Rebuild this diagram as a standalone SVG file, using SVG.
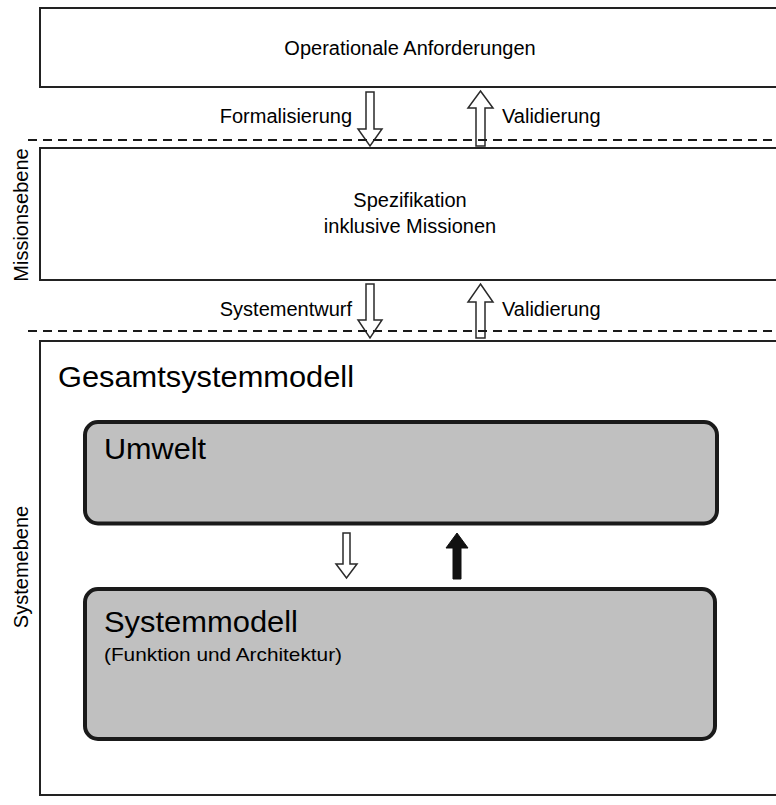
<svg xmlns="http://www.w3.org/2000/svg" width="776" height="805" viewBox="0 0 776 805">
  <style>
    .frame { fill: #ffffff; stroke: #222222; stroke-width: 2; }
    .block { fill: #c0c0c0; stroke: #1a1a1a; stroke-width: 4; }
    .level { fill: none; stroke: #1a1a1a; stroke-width: 2; stroke-dasharray: 9 6; }
    .hollow { fill: #ffffff; stroke: #2a2a2a; stroke-width: 1.5; stroke-linejoin: miter; }
    .solid { fill: #111111; stroke: #111111; stroke-width: 1; }
    text { font-family: "Liberation Sans", Arial, sans-serif; fill: #000000; }
    .lbl { font-size: 20px; }
    .note { font-size: 19px; }
    .head { font-size: 30px; }
    .side { font-size: 20px; }
  </style>

  <rect width="776" height="805" fill="#ffffff"/>

  <!-- top: operational requirements -->
  <g id="operationale-anforderungen">
    <rect class="frame" x="40" y="8" width="760" height="79"/>
    <text class="lbl" x="410" y="55" text-anchor="middle">Operationale Anforderungen</text>
  </g>

  <!-- mission level: specification -->
  <g id="spezifikation">
    <rect class="frame" x="40" y="148" width="760" height="132"/>
    <text class="lbl" x="410" y="207" text-anchor="middle">Spezifikation</text>
    <text class="lbl" x="410" y="233" text-anchor="middle">inklusive Missionen</text>
  </g>

  <!-- system level: overall system model -->
  <g id="gesamtsystemmodell">
    <rect class="frame" x="40" y="341" width="760" height="454"/>
    <text class="head" x="58" y="387" textLength="296" lengthAdjust="spacingAndGlyphs">Gesamtsystemmodell</text>
  </g>

  <g id="umwelt">
    <rect class="block" x="85" y="422" width="632" height="101.5" rx="13"/>
    <text class="head" x="104" y="459" textLength="102" lengthAdjust="spacingAndGlyphs">Umwelt</text>
  </g>

  <g id="systemmodell">
    <rect class="block" x="85" y="589" width="630" height="150" rx="13"/>
    <text class="head" x="104" y="632" textLength="194" lengthAdjust="spacingAndGlyphs">Systemmodell</text>
    <text class="note" x="104" y="661" textLength="238" lengthAdjust="spacingAndGlyphs">(Funktion und Architektur)</text>
  </g>

  <!-- level labels -->
  <g id="ebenen">
    <text class="side" transform="translate(28 215) rotate(-90)" text-anchor="middle">Missionsebene</text>
    <text class="side" transform="translate(28 567) rotate(-90)" text-anchor="middle">Systemebene</text>
  </g>

  <!-- connectors -->
  <g id="connectors">
    <path class="hollow" d="M366,92 H374 V129 H382 L370,146 L358,129 H366 Z"/>
    <path class="hollow" d="M480.5,91 L493,108 H485 V146 H476 V108 H468 Z"/>
    <text class="lbl" x="352" y="123" text-anchor="end">Formalisierung</text>
    <text class="lbl" x="502" y="123">Validierung</text>

    <path class="hollow" d="M366,284 H374 V320 H382 L370,338 L358,320 H366 Z"/>
    <path class="hollow" d="M480.5,284 L493,302 H485 V338 H476 V302 H468 Z"/>
    <text class="lbl" x="352" y="316" text-anchor="end">Systementwurf</text>
    <text class="lbl" x="502" y="316">Validierung</text>

    <path class="hollow" d="M343,533 H350 V564 H357 L346.5,578 L336,564 H343 Z"/>
    <path class="solid" d="M457,533 L468,548 H461 V579 H453 V548 H446 Z"/>

    <line class="level" x1="28" y1="140" x2="776" y2="140"/>
    <line class="level" x1="28" y1="331" x2="776" y2="331"/>
  </g>
</svg>
